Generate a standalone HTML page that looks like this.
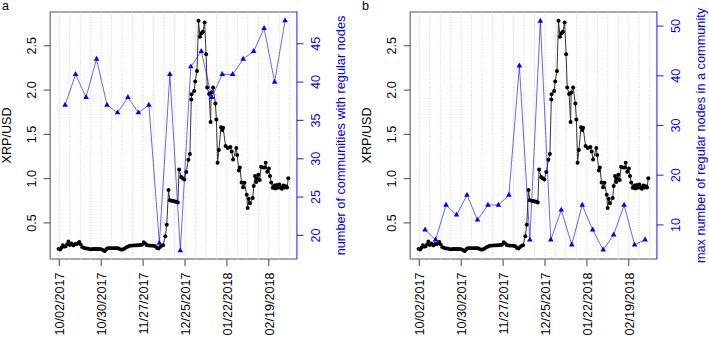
<!DOCTYPE html>
<html><head><meta charset="utf-8"><style>
html,body{margin:0;padding:0;background:#fff;}
svg{display:block;}
text{font-family:"Liberation Sans", sans-serif;}
</style></head><body>
<svg width="709" height="337" viewBox="0 0 709 337">
<rect width="709" height="337" fill="#fff"/>
<g transform="translate(0,0)">
<line x1="59.30" y1="11.6" x2="59.30" y2="259.0" stroke="#cacaca" stroke-width="0.9" stroke-dasharray="1 1.7"/>
<line x1="69.77" y1="11.6" x2="69.77" y2="259.0" stroke="#cacaca" stroke-width="0.9" stroke-dasharray="1 1.7"/>
<line x1="80.25" y1="11.6" x2="80.25" y2="259.0" stroke="#cacaca" stroke-width="0.9" stroke-dasharray="1 1.7"/>
<line x1="90.72" y1="11.6" x2="90.72" y2="259.0" stroke="#cacaca" stroke-width="0.9" stroke-dasharray="1 1.7"/>
<line x1="101.20" y1="11.6" x2="101.20" y2="259.0" stroke="#cacaca" stroke-width="0.9" stroke-dasharray="1 1.7"/>
<line x1="111.67" y1="11.6" x2="111.67" y2="259.0" stroke="#cacaca" stroke-width="0.9" stroke-dasharray="1 1.7"/>
<line x1="122.15" y1="11.6" x2="122.15" y2="259.0" stroke="#cacaca" stroke-width="0.9" stroke-dasharray="1 1.7"/>
<line x1="132.62" y1="11.6" x2="132.62" y2="259.0" stroke="#cacaca" stroke-width="0.9" stroke-dasharray="1 1.7"/>
<line x1="143.10" y1="11.6" x2="143.10" y2="259.0" stroke="#cacaca" stroke-width="0.9" stroke-dasharray="1 1.7"/>
<line x1="153.57" y1="11.6" x2="153.57" y2="259.0" stroke="#cacaca" stroke-width="0.9" stroke-dasharray="1 1.7"/>
<line x1="164.05" y1="11.6" x2="164.05" y2="259.0" stroke="#cacaca" stroke-width="0.9" stroke-dasharray="1 1.7"/>
<line x1="174.52" y1="11.6" x2="174.52" y2="259.0" stroke="#cacaca" stroke-width="0.9" stroke-dasharray="1 1.7"/>
<line x1="185.00" y1="11.6" x2="185.00" y2="259.0" stroke="#cacaca" stroke-width="0.9" stroke-dasharray="1 1.7"/>
<line x1="195.47" y1="11.6" x2="195.47" y2="259.0" stroke="#cacaca" stroke-width="0.9" stroke-dasharray="1 1.7"/>
<line x1="205.95" y1="11.6" x2="205.95" y2="259.0" stroke="#cacaca" stroke-width="0.9" stroke-dasharray="1 1.7"/>
<line x1="216.43" y1="11.6" x2="216.43" y2="259.0" stroke="#cacaca" stroke-width="0.9" stroke-dasharray="1 1.7"/>
<line x1="226.90" y1="11.6" x2="226.90" y2="259.0" stroke="#cacaca" stroke-width="0.9" stroke-dasharray="1 1.7"/>
<line x1="237.38" y1="11.6" x2="237.38" y2="259.0" stroke="#cacaca" stroke-width="0.9" stroke-dasharray="1 1.7"/>
<line x1="247.85" y1="11.6" x2="247.85" y2="259.0" stroke="#cacaca" stroke-width="0.9" stroke-dasharray="1 1.7"/>
<line x1="258.32" y1="11.6" x2="258.32" y2="259.0" stroke="#cacaca" stroke-width="0.9" stroke-dasharray="1 1.7"/>
<line x1="268.80" y1="11.6" x2="268.80" y2="259.0" stroke="#cacaca" stroke-width="0.9" stroke-dasharray="1 1.7"/>
<line x1="279.27" y1="11.6" x2="279.27" y2="259.0" stroke="#cacaca" stroke-width="0.9" stroke-dasharray="1 1.7"/>
<line x1="289.75" y1="11.6" x2="289.75" y2="259.0" stroke="#cacaca" stroke-width="0.9" stroke-dasharray="1 1.7"/>
<path d="M296.9,11.9 H50.2 V259.0 H296.9" fill="none" stroke="#8a8a8a" stroke-width="1.5"/>
<line x1="296.9" y1="11.6" x2="296.9" y2="259.0" stroke="#0000ff" stroke-opacity="0.75" stroke-width="1.2"/>
<rect x="58.80" y="11.2" width="1" height="1.4" fill="#d0d0d0"/>
<rect x="58.80" y="258.3" width="1" height="1.4" fill="#d0d0d0"/>
<rect x="69.27" y="11.2" width="1" height="1.4" fill="#d0d0d0"/>
<rect x="69.27" y="258.3" width="1" height="1.4" fill="#d0d0d0"/>
<rect x="79.75" y="11.2" width="1" height="1.4" fill="#d0d0d0"/>
<rect x="79.75" y="258.3" width="1" height="1.4" fill="#d0d0d0"/>
<rect x="90.22" y="11.2" width="1" height="1.4" fill="#d0d0d0"/>
<rect x="90.22" y="258.3" width="1" height="1.4" fill="#d0d0d0"/>
<rect x="100.70" y="11.2" width="1" height="1.4" fill="#d0d0d0"/>
<rect x="100.70" y="258.3" width="1" height="1.4" fill="#d0d0d0"/>
<rect x="111.17" y="11.2" width="1" height="1.4" fill="#d0d0d0"/>
<rect x="111.17" y="258.3" width="1" height="1.4" fill="#d0d0d0"/>
<rect x="121.65" y="11.2" width="1" height="1.4" fill="#d0d0d0"/>
<rect x="121.65" y="258.3" width="1" height="1.4" fill="#d0d0d0"/>
<rect x="132.12" y="11.2" width="1" height="1.4" fill="#d0d0d0"/>
<rect x="132.12" y="258.3" width="1" height="1.4" fill="#d0d0d0"/>
<rect x="142.60" y="11.2" width="1" height="1.4" fill="#d0d0d0"/>
<rect x="142.60" y="258.3" width="1" height="1.4" fill="#d0d0d0"/>
<rect x="153.07" y="11.2" width="1" height="1.4" fill="#d0d0d0"/>
<rect x="153.07" y="258.3" width="1" height="1.4" fill="#d0d0d0"/>
<rect x="163.55" y="11.2" width="1" height="1.4" fill="#d0d0d0"/>
<rect x="163.55" y="258.3" width="1" height="1.4" fill="#d0d0d0"/>
<rect x="174.02" y="11.2" width="1" height="1.4" fill="#d0d0d0"/>
<rect x="174.02" y="258.3" width="1" height="1.4" fill="#d0d0d0"/>
<rect x="184.50" y="11.2" width="1" height="1.4" fill="#d0d0d0"/>
<rect x="184.50" y="258.3" width="1" height="1.4" fill="#d0d0d0"/>
<rect x="194.97" y="11.2" width="1" height="1.4" fill="#d0d0d0"/>
<rect x="194.97" y="258.3" width="1" height="1.4" fill="#d0d0d0"/>
<rect x="205.45" y="11.2" width="1" height="1.4" fill="#d0d0d0"/>
<rect x="205.45" y="258.3" width="1" height="1.4" fill="#d0d0d0"/>
<rect x="215.93" y="11.2" width="1" height="1.4" fill="#d0d0d0"/>
<rect x="215.93" y="258.3" width="1" height="1.4" fill="#d0d0d0"/>
<rect x="226.40" y="11.2" width="1" height="1.4" fill="#d0d0d0"/>
<rect x="226.40" y="258.3" width="1" height="1.4" fill="#d0d0d0"/>
<rect x="236.88" y="11.2" width="1" height="1.4" fill="#d0d0d0"/>
<rect x="236.88" y="258.3" width="1" height="1.4" fill="#d0d0d0"/>
<rect x="247.35" y="11.2" width="1" height="1.4" fill="#d0d0d0"/>
<rect x="247.35" y="258.3" width="1" height="1.4" fill="#d0d0d0"/>
<rect x="257.82" y="11.2" width="1" height="1.4" fill="#d0d0d0"/>
<rect x="257.82" y="258.3" width="1" height="1.4" fill="#d0d0d0"/>
<rect x="268.30" y="11.2" width="1" height="1.4" fill="#d0d0d0"/>
<rect x="268.30" y="258.3" width="1" height="1.4" fill="#d0d0d0"/>
<rect x="278.77" y="11.2" width="1" height="1.4" fill="#d0d0d0"/>
<rect x="278.77" y="258.3" width="1" height="1.4" fill="#d0d0d0"/>
<rect x="289.25" y="11.2" width="1" height="1.4" fill="#d0d0d0"/>
<rect x="289.25" y="258.3" width="1" height="1.4" fill="#d0d0d0"/>
<line x1="43.6" y1="222.92" x2="50.2" y2="222.92" stroke="#4a4a4a" stroke-width="1.0"/>
<text x="0" y="0" transform="translate(35.6,222.92) rotate(-90)" text-anchor="middle" font-size="12.6" fill="#000">0.5</text>
<line x1="43.6" y1="178.65" x2="50.2" y2="178.65" stroke="#4a4a4a" stroke-width="1.0"/>
<text x="0" y="0" transform="translate(35.6,178.65) rotate(-90)" text-anchor="middle" font-size="12.6" fill="#000">1.0</text>
<line x1="43.6" y1="134.38" x2="50.2" y2="134.38" stroke="#4a4a4a" stroke-width="1.0"/>
<text x="0" y="0" transform="translate(35.6,134.38) rotate(-90)" text-anchor="middle" font-size="12.6" fill="#000">1.5</text>
<line x1="43.6" y1="90.10" x2="50.2" y2="90.10" stroke="#4a4a4a" stroke-width="1.0"/>
<text x="0" y="0" transform="translate(35.6,90.10) rotate(-90)" text-anchor="middle" font-size="12.6" fill="#000">2.0</text>
<line x1="43.6" y1="45.82" x2="50.2" y2="45.82" stroke="#4a4a4a" stroke-width="1.0"/>
<text x="0" y="0" transform="translate(35.6,45.82) rotate(-90)" text-anchor="middle" font-size="12.6" fill="#000">2.5</text>
<text transform="translate(11.2,135.4) rotate(-90)" text-anchor="middle" font-size="12.6" fill="#000">XRP/USD</text>
<line x1="59.30" y1="259.0" x2="59.30" y2="266.0" stroke="#555" stroke-width="1.1"/>
<text transform="translate(64.40,272.4) rotate(-90)" text-anchor="end" font-size="12.6" fill="#000">10/02/2017</text>
<line x1="101.20" y1="259.0" x2="101.20" y2="266.0" stroke="#555" stroke-width="1.1"/>
<text transform="translate(106.30,272.4) rotate(-90)" text-anchor="end" font-size="12.6" fill="#000">10/30/2017</text>
<line x1="143.10" y1="259.0" x2="143.10" y2="266.0" stroke="#555" stroke-width="1.1"/>
<text transform="translate(148.20,272.4) rotate(-90)" text-anchor="end" font-size="12.6" fill="#000">11/27/2017</text>
<line x1="185.00" y1="259.0" x2="185.00" y2="266.0" stroke="#555" stroke-width="1.1"/>
<text transform="translate(190.10,272.4) rotate(-90)" text-anchor="end" font-size="12.6" fill="#000">12/25/2017</text>
<line x1="226.90" y1="259.0" x2="226.90" y2="266.0" stroke="#555" stroke-width="1.1"/>
<text transform="translate(232.00,272.4) rotate(-90)" text-anchor="end" font-size="12.6" fill="#000">01/22/2018</text>
<line x1="268.80" y1="259.0" x2="268.80" y2="266.0" stroke="#555" stroke-width="1.1"/>
<text transform="translate(273.90,272.4) rotate(-90)" text-anchor="end" font-size="12.6" fill="#000">02/19/2018</text>
<line x1="296.9" y1="235.40" x2="303.5" y2="235.40" stroke="#0000ff" stroke-opacity="0.75" stroke-width="1.2"/>
<text transform="translate(320.2,235.40) rotate(-90)" text-anchor="middle" font-size="12.6" fill="#0000ff">20</text>
<line x1="296.9" y1="197.06" x2="303.5" y2="197.06" stroke="#0000ff" stroke-opacity="0.75" stroke-width="1.2"/>
<text transform="translate(320.2,197.06) rotate(-90)" text-anchor="middle" font-size="12.6" fill="#0000ff">25</text>
<line x1="296.9" y1="158.72" x2="303.5" y2="158.72" stroke="#0000ff" stroke-opacity="0.75" stroke-width="1.2"/>
<text transform="translate(320.2,158.72) rotate(-90)" text-anchor="middle" font-size="12.6" fill="#0000ff">30</text>
<line x1="296.9" y1="120.38" x2="303.5" y2="120.38" stroke="#0000ff" stroke-opacity="0.75" stroke-width="1.2"/>
<text transform="translate(320.2,120.38) rotate(-90)" text-anchor="middle" font-size="12.6" fill="#0000ff">35</text>
<line x1="296.9" y1="82.04" x2="303.5" y2="82.04" stroke="#0000ff" stroke-opacity="0.75" stroke-width="1.2"/>
<text transform="translate(320.2,82.04) rotate(-90)" text-anchor="middle" font-size="12.6" fill="#0000ff">40</text>
<line x1="296.9" y1="43.70" x2="303.5" y2="43.70" stroke="#0000ff" stroke-opacity="0.75" stroke-width="1.2"/>
<text transform="translate(320.2,43.70) rotate(-90)" text-anchor="middle" font-size="12.6" fill="#0000ff">45</text>
<text transform="translate(345.2,135.5) rotate(-90)" text-anchor="middle" font-size="12.72" fill="#0000ff">number of communities with regular nodes</text>
<path d="M58.50,248.80 L60.20,249.60 L61.60,247.50 L62.90,245.10 L64.30,246.70 L65.70,246.40 L67.10,244.20 L68.40,241.30 L69.90,245.10 L71.60,243.50 L73.40,245.40 L75.10,244.00 L76.70,244.20 L78.20,243.20 L79.40,241.90 L80.80,244.60 L82.30,247.20 L83.80,247.73 L85.30,248.28 L86.79,248.50 L88.29,248.54 L89.79,249.19 L91.28,249.33 L92.78,249.00 L94.27,249.00 L95.77,249.00 L97.27,249.00 L98.76,249.00 L100.26,249.05 L101.76,249.35 L103.25,250.18 L104.75,251.21 L106.25,249.27 L107.74,248.23 L109.24,248.08 L110.74,248.04 L112.23,248.11 L113.73,248.19 L115.22,248.14 L116.72,248.06 L118.22,248.15 L119.71,249.20 L121.21,249.48 L122.71,249.58 L124.20,248.64 L125.70,247.66 L127.20,246.95 L128.69,246.23 L130.19,245.59 L131.68,245.53 L133.18,245.47 L134.68,245.41 L136.17,245.33 L137.67,245.24 L139.17,245.15 L140.66,244.94 L142.16,244.58 L143.66,242.03 L145.15,243.37 L146.65,245.00 L148.15,245.41 L149.64,245.56 L151.14,245.60 L152.63,245.60 L154.13,245.92 L155.63,246.45 L157.12,248.18 L158.62,248.52 L160.12,246.91 L161.61,245.79 L163.11,245.19 L165.30,236.30 L166.75,224.80 L168.50,190.00 L169.80,200.30 L171.50,200.80 L173.30,201.10 L175.00,201.50 L176.40,201.80 L177.80,202.60 L179.10,169.60 L181.20,176.90 L182.60,178.30 L184.30,179.40 L186.30,172.10 L188.40,159.70 L189.90,154.10 L191.30,99.40 L191.60,94.30 L194.10,90.90 L195.20,81.40 L197.00,71.00 L198.50,20.70 L200.00,36.80 L201.50,33.30 L202.90,31.80 L204.60,22.60 L206.10,54.20 L207.20,87.50 L209.10,94.10 L210.60,121.90 L211.20,92.60 L213.10,87.40 L215.40,103.50 L216.40,119.60 L217.60,162.70 L218.90,150.00 L221.00,127.20 L222.40,130.00 L223.10,127.80 L225.60,146.00 L227.80,148.00 L230.40,147.00 L231.70,151.50 L233.10,159.50 L236.30,148.00 L237.20,155.00 L238.80,170.60 L239.80,167.50 L241.60,182.60 L243.10,187.30 L244.40,182.70 L246.70,194.70 L247.60,208.00 L248.70,198.70 L250.00,203.30 L252.70,198.00 L253.70,186.10 L255.00,176.00 L256.30,182.00 L257.00,178.70 L258.30,174.70 L259.70,180.00 L261.00,166.70 L263.00,167.40 L264.80,167.40 L265.70,162.70 L267.20,171.80 L268.90,168.50 L270.00,176.00 L271.20,182.40 L272.70,187.80 L274.20,185.60 L275.30,188.60 L276.80,185.10 L278.00,187.80 L279.30,184.60 L280.60,187.40 L281.90,188.80 L283.40,185.60 L284.60,187.60 L285.70,186.20 L287.10,187.40 L288.30,178.20" fill="none" stroke="#333" stroke-width="1.0" stroke-linejoin="round"/>
<circle cx="58.50" cy="248.80" r="1.9" fill="#000"/>
<circle cx="60.20" cy="249.60" r="1.9" fill="#000"/>
<circle cx="61.60" cy="247.50" r="1.9" fill="#000"/>
<circle cx="62.90" cy="245.10" r="1.9" fill="#000"/>
<circle cx="64.30" cy="246.70" r="1.9" fill="#000"/>
<circle cx="65.70" cy="246.40" r="1.9" fill="#000"/>
<circle cx="67.10" cy="244.20" r="1.9" fill="#000"/>
<circle cx="68.40" cy="241.30" r="1.9" fill="#000"/>
<circle cx="69.90" cy="245.10" r="1.9" fill="#000"/>
<circle cx="71.60" cy="243.50" r="1.9" fill="#000"/>
<circle cx="73.40" cy="245.40" r="1.9" fill="#000"/>
<circle cx="75.10" cy="244.00" r="1.9" fill="#000"/>
<circle cx="76.70" cy="244.20" r="1.9" fill="#000"/>
<circle cx="78.20" cy="243.20" r="1.9" fill="#000"/>
<circle cx="79.40" cy="241.90" r="1.9" fill="#000"/>
<circle cx="80.80" cy="244.60" r="1.9" fill="#000"/>
<circle cx="82.30" cy="247.20" r="1.9" fill="#000"/>
<circle cx="83.80" cy="247.73" r="1.9" fill="#000"/>
<circle cx="85.30" cy="248.28" r="1.9" fill="#000"/>
<circle cx="86.79" cy="248.50" r="1.9" fill="#000"/>
<circle cx="88.29" cy="248.54" r="1.9" fill="#000"/>
<circle cx="89.79" cy="249.19" r="1.9" fill="#000"/>
<circle cx="91.28" cy="249.33" r="1.9" fill="#000"/>
<circle cx="92.78" cy="249.00" r="1.9" fill="#000"/>
<circle cx="94.27" cy="249.00" r="1.9" fill="#000"/>
<circle cx="95.77" cy="249.00" r="1.9" fill="#000"/>
<circle cx="97.27" cy="249.00" r="1.9" fill="#000"/>
<circle cx="98.76" cy="249.00" r="1.9" fill="#000"/>
<circle cx="100.26" cy="249.05" r="1.9" fill="#000"/>
<circle cx="101.76" cy="249.35" r="1.9" fill="#000"/>
<circle cx="103.25" cy="250.18" r="1.9" fill="#000"/>
<circle cx="104.75" cy="251.21" r="1.9" fill="#000"/>
<circle cx="106.25" cy="249.27" r="1.9" fill="#000"/>
<circle cx="107.74" cy="248.23" r="1.9" fill="#000"/>
<circle cx="109.24" cy="248.08" r="1.9" fill="#000"/>
<circle cx="110.74" cy="248.04" r="1.9" fill="#000"/>
<circle cx="112.23" cy="248.11" r="1.9" fill="#000"/>
<circle cx="113.73" cy="248.19" r="1.9" fill="#000"/>
<circle cx="115.22" cy="248.14" r="1.9" fill="#000"/>
<circle cx="116.72" cy="248.06" r="1.9" fill="#000"/>
<circle cx="118.22" cy="248.15" r="1.9" fill="#000"/>
<circle cx="119.71" cy="249.20" r="1.9" fill="#000"/>
<circle cx="121.21" cy="249.48" r="1.9" fill="#000"/>
<circle cx="122.71" cy="249.58" r="1.9" fill="#000"/>
<circle cx="124.20" cy="248.64" r="1.9" fill="#000"/>
<circle cx="125.70" cy="247.66" r="1.9" fill="#000"/>
<circle cx="127.20" cy="246.95" r="1.9" fill="#000"/>
<circle cx="128.69" cy="246.23" r="1.9" fill="#000"/>
<circle cx="130.19" cy="245.59" r="1.9" fill="#000"/>
<circle cx="131.68" cy="245.53" r="1.9" fill="#000"/>
<circle cx="133.18" cy="245.47" r="1.9" fill="#000"/>
<circle cx="134.68" cy="245.41" r="1.9" fill="#000"/>
<circle cx="136.17" cy="245.33" r="1.9" fill="#000"/>
<circle cx="137.67" cy="245.24" r="1.9" fill="#000"/>
<circle cx="139.17" cy="245.15" r="1.9" fill="#000"/>
<circle cx="140.66" cy="244.94" r="1.9" fill="#000"/>
<circle cx="142.16" cy="244.58" r="1.9" fill="#000"/>
<circle cx="143.66" cy="242.03" r="1.9" fill="#000"/>
<circle cx="145.15" cy="243.37" r="1.9" fill="#000"/>
<circle cx="146.65" cy="245.00" r="1.9" fill="#000"/>
<circle cx="148.15" cy="245.41" r="1.9" fill="#000"/>
<circle cx="149.64" cy="245.56" r="1.9" fill="#000"/>
<circle cx="151.14" cy="245.60" r="1.9" fill="#000"/>
<circle cx="152.63" cy="245.60" r="1.9" fill="#000"/>
<circle cx="154.13" cy="245.92" r="1.9" fill="#000"/>
<circle cx="155.63" cy="246.45" r="1.9" fill="#000"/>
<circle cx="157.12" cy="248.18" r="1.9" fill="#000"/>
<circle cx="158.62" cy="248.52" r="1.9" fill="#000"/>
<circle cx="160.12" cy="246.91" r="1.9" fill="#000"/>
<circle cx="161.61" cy="245.79" r="1.9" fill="#000"/>
<circle cx="163.11" cy="245.19" r="1.9" fill="#000"/>
<circle cx="165.30" cy="236.30" r="2.0" fill="#000"/>
<circle cx="166.75" cy="224.80" r="2.0" fill="#000"/>
<circle cx="168.50" cy="190.00" r="2.0" fill="#000"/>
<circle cx="169.80" cy="200.30" r="2.0" fill="#000"/>
<circle cx="171.50" cy="200.80" r="2.0" fill="#000"/>
<circle cx="173.30" cy="201.10" r="2.0" fill="#000"/>
<circle cx="175.00" cy="201.50" r="2.0" fill="#000"/>
<circle cx="176.40" cy="201.80" r="2.0" fill="#000"/>
<circle cx="177.80" cy="202.60" r="2.0" fill="#000"/>
<circle cx="179.10" cy="169.60" r="2.0" fill="#000"/>
<circle cx="181.20" cy="176.90" r="2.0" fill="#000"/>
<circle cx="182.60" cy="178.30" r="2.0" fill="#000"/>
<circle cx="184.30" cy="179.40" r="2.0" fill="#000"/>
<circle cx="186.30" cy="172.10" r="2.0" fill="#000"/>
<circle cx="188.40" cy="159.70" r="2.0" fill="#000"/>
<circle cx="189.90" cy="154.10" r="2.0" fill="#000"/>
<circle cx="191.30" cy="99.40" r="2.0" fill="#000"/>
<circle cx="191.60" cy="94.30" r="2.0" fill="#000"/>
<circle cx="194.10" cy="90.90" r="2.0" fill="#000"/>
<circle cx="195.20" cy="81.40" r="2.0" fill="#000"/>
<circle cx="197.00" cy="71.00" r="2.0" fill="#000"/>
<circle cx="198.50" cy="20.70" r="2.0" fill="#000"/>
<circle cx="200.00" cy="36.80" r="2.0" fill="#000"/>
<circle cx="201.50" cy="33.30" r="2.0" fill="#000"/>
<circle cx="202.90" cy="31.80" r="2.0" fill="#000"/>
<circle cx="204.60" cy="22.60" r="2.0" fill="#000"/>
<circle cx="206.10" cy="54.20" r="2.0" fill="#000"/>
<circle cx="207.20" cy="87.50" r="2.0" fill="#000"/>
<circle cx="209.10" cy="94.10" r="2.0" fill="#000"/>
<circle cx="210.60" cy="121.90" r="2.0" fill="#000"/>
<circle cx="211.20" cy="92.60" r="2.0" fill="#000"/>
<circle cx="213.10" cy="87.40" r="2.0" fill="#000"/>
<circle cx="215.40" cy="103.50" r="2.0" fill="#000"/>
<circle cx="216.40" cy="119.60" r="2.0" fill="#000"/>
<circle cx="217.60" cy="162.70" r="2.0" fill="#000"/>
<circle cx="218.90" cy="150.00" r="2.0" fill="#000"/>
<circle cx="221.00" cy="127.20" r="2.0" fill="#000"/>
<circle cx="222.40" cy="130.00" r="2.0" fill="#000"/>
<circle cx="223.10" cy="127.80" r="2.0" fill="#000"/>
<circle cx="225.60" cy="146.00" r="2.0" fill="#000"/>
<circle cx="227.80" cy="148.00" r="2.0" fill="#000"/>
<circle cx="230.40" cy="147.00" r="2.0" fill="#000"/>
<circle cx="231.70" cy="151.50" r="2.0" fill="#000"/>
<circle cx="233.10" cy="159.50" r="2.0" fill="#000"/>
<circle cx="236.30" cy="148.00" r="2.0" fill="#000"/>
<circle cx="237.20" cy="155.00" r="2.0" fill="#000"/>
<circle cx="238.80" cy="170.60" r="2.0" fill="#000"/>
<circle cx="239.80" cy="167.50" r="2.0" fill="#000"/>
<circle cx="241.60" cy="182.60" r="2.0" fill="#000"/>
<circle cx="243.10" cy="187.30" r="2.0" fill="#000"/>
<circle cx="244.40" cy="182.70" r="2.0" fill="#000"/>
<circle cx="246.70" cy="194.70" r="2.0" fill="#000"/>
<circle cx="247.60" cy="208.00" r="2.0" fill="#000"/>
<circle cx="248.70" cy="198.70" r="2.0" fill="#000"/>
<circle cx="250.00" cy="203.30" r="2.0" fill="#000"/>
<circle cx="252.70" cy="198.00" r="2.0" fill="#000"/>
<circle cx="253.70" cy="186.10" r="2.0" fill="#000"/>
<circle cx="255.00" cy="176.00" r="2.0" fill="#000"/>
<circle cx="256.30" cy="182.00" r="2.0" fill="#000"/>
<circle cx="257.00" cy="178.70" r="2.0" fill="#000"/>
<circle cx="258.30" cy="174.70" r="2.0" fill="#000"/>
<circle cx="259.70" cy="180.00" r="2.0" fill="#000"/>
<circle cx="261.00" cy="166.70" r="2.0" fill="#000"/>
<circle cx="263.00" cy="167.40" r="2.0" fill="#000"/>
<circle cx="264.80" cy="167.40" r="2.0" fill="#000"/>
<circle cx="265.70" cy="162.70" r="2.0" fill="#000"/>
<circle cx="267.20" cy="171.80" r="2.0" fill="#000"/>
<circle cx="268.90" cy="168.50" r="2.0" fill="#000"/>
<circle cx="270.00" cy="176.00" r="2.0" fill="#000"/>
<circle cx="271.20" cy="182.40" r="2.0" fill="#000"/>
<circle cx="272.70" cy="187.80" r="2.0" fill="#000"/>
<circle cx="274.20" cy="185.60" r="2.0" fill="#000"/>
<circle cx="275.30" cy="188.60" r="2.0" fill="#000"/>
<circle cx="276.80" cy="185.10" r="2.0" fill="#000"/>
<circle cx="278.00" cy="187.80" r="2.0" fill="#000"/>
<circle cx="279.30" cy="184.60" r="2.0" fill="#000"/>
<circle cx="280.60" cy="187.40" r="2.0" fill="#000"/>
<circle cx="281.90" cy="188.80" r="2.0" fill="#000"/>
<circle cx="283.40" cy="185.60" r="2.0" fill="#000"/>
<circle cx="284.60" cy="187.60" r="2.0" fill="#000"/>
<circle cx="285.70" cy="186.20" r="2.0" fill="#000"/>
<circle cx="287.10" cy="187.40" r="2.0" fill="#000"/>
<circle cx="288.30" cy="178.20" r="2.0" fill="#000"/>
<path d="M65.10,105.04 L75.57,74.37 L86.05,97.38 L96.52,59.04 L107.00,105.04 L117.47,112.71 L127.95,97.38 L138.43,112.71 L148.90,105.04 L159.38,243.07 L169.85,74.37 L180.32,250.74 L190.80,66.70 L201.27,51.37 L211.75,97.38 L222.22,74.37 L232.70,74.37 L243.17,59.04 L253.65,51.37 L264.12,28.36 L274.60,82.04 L285.07,20.70" fill="none" stroke="#0000ff" stroke-opacity="0.6" stroke-width="1.0"/>
<path d="M65.10,101.78 L67.93,106.68 L62.27,106.68Z" fill="#0000ff"/>
<path d="M75.57,71.11 L78.40,76.00 L72.75,76.00Z" fill="#0000ff"/>
<path d="M86.05,94.11 L88.88,99.01 L83.22,99.01Z" fill="#0000ff"/>
<path d="M96.52,55.77 L99.35,60.67 L93.70,60.67Z" fill="#0000ff"/>
<path d="M107.00,101.78 L109.83,106.68 L104.17,106.68Z" fill="#0000ff"/>
<path d="M117.47,109.45 L120.30,114.34 L114.65,114.34Z" fill="#0000ff"/>
<path d="M127.95,94.11 L130.78,99.01 L125.12,99.01Z" fill="#0000ff"/>
<path d="M138.43,109.45 L141.25,114.34 L135.60,114.34Z" fill="#0000ff"/>
<path d="M148.90,101.78 L151.73,106.68 L146.07,106.68Z" fill="#0000ff"/>
<path d="M159.38,239.80 L162.20,244.70 L156.55,244.70Z" fill="#0000ff"/>
<path d="M169.85,71.11 L172.68,76.00 L167.02,76.00Z" fill="#0000ff"/>
<path d="M180.32,247.47 L183.15,252.37 L177.50,252.37Z" fill="#0000ff"/>
<path d="M190.80,63.44 L193.63,68.34 L187.97,68.34Z" fill="#0000ff"/>
<path d="M201.27,48.10 L204.10,53.00 L198.45,53.00Z" fill="#0000ff"/>
<path d="M211.75,94.11 L214.58,99.01 L208.92,99.01Z" fill="#0000ff"/>
<path d="M222.22,71.11 L225.05,76.00 L219.40,76.00Z" fill="#0000ff"/>
<path d="M232.70,71.11 L235.53,76.00 L229.87,76.00Z" fill="#0000ff"/>
<path d="M243.17,55.77 L246.00,60.67 L240.35,60.67Z" fill="#0000ff"/>
<path d="M253.65,48.10 L256.48,53.00 L250.82,53.00Z" fill="#0000ff"/>
<path d="M264.12,25.10 L266.95,30.00 L261.30,30.00Z" fill="#0000ff"/>
<path d="M274.60,78.77 L277.43,83.67 L271.77,83.67Z" fill="#0000ff"/>
<path d="M285.07,17.43 L287.90,22.33 L282.25,22.33Z" fill="#0000ff"/>
<text x="1.9" y="9.6" font-size="12.6" fill="#000">a</text>
</g>
<g transform="translate(360,0)">
<line x1="59.30" y1="11.6" x2="59.30" y2="259.0" stroke="#cacaca" stroke-width="0.9" stroke-dasharray="1 1.7"/>
<line x1="69.77" y1="11.6" x2="69.77" y2="259.0" stroke="#cacaca" stroke-width="0.9" stroke-dasharray="1 1.7"/>
<line x1="80.25" y1="11.6" x2="80.25" y2="259.0" stroke="#cacaca" stroke-width="0.9" stroke-dasharray="1 1.7"/>
<line x1="90.72" y1="11.6" x2="90.72" y2="259.0" stroke="#cacaca" stroke-width="0.9" stroke-dasharray="1 1.7"/>
<line x1="101.20" y1="11.6" x2="101.20" y2="259.0" stroke="#cacaca" stroke-width="0.9" stroke-dasharray="1 1.7"/>
<line x1="111.67" y1="11.6" x2="111.67" y2="259.0" stroke="#cacaca" stroke-width="0.9" stroke-dasharray="1 1.7"/>
<line x1="122.15" y1="11.6" x2="122.15" y2="259.0" stroke="#cacaca" stroke-width="0.9" stroke-dasharray="1 1.7"/>
<line x1="132.62" y1="11.6" x2="132.62" y2="259.0" stroke="#cacaca" stroke-width="0.9" stroke-dasharray="1 1.7"/>
<line x1="143.10" y1="11.6" x2="143.10" y2="259.0" stroke="#cacaca" stroke-width="0.9" stroke-dasharray="1 1.7"/>
<line x1="153.57" y1="11.6" x2="153.57" y2="259.0" stroke="#cacaca" stroke-width="0.9" stroke-dasharray="1 1.7"/>
<line x1="164.05" y1="11.6" x2="164.05" y2="259.0" stroke="#cacaca" stroke-width="0.9" stroke-dasharray="1 1.7"/>
<line x1="174.52" y1="11.6" x2="174.52" y2="259.0" stroke="#cacaca" stroke-width="0.9" stroke-dasharray="1 1.7"/>
<line x1="185.00" y1="11.6" x2="185.00" y2="259.0" stroke="#cacaca" stroke-width="0.9" stroke-dasharray="1 1.7"/>
<line x1="195.47" y1="11.6" x2="195.47" y2="259.0" stroke="#cacaca" stroke-width="0.9" stroke-dasharray="1 1.7"/>
<line x1="205.95" y1="11.6" x2="205.95" y2="259.0" stroke="#cacaca" stroke-width="0.9" stroke-dasharray="1 1.7"/>
<line x1="216.43" y1="11.6" x2="216.43" y2="259.0" stroke="#cacaca" stroke-width="0.9" stroke-dasharray="1 1.7"/>
<line x1="226.90" y1="11.6" x2="226.90" y2="259.0" stroke="#cacaca" stroke-width="0.9" stroke-dasharray="1 1.7"/>
<line x1="237.38" y1="11.6" x2="237.38" y2="259.0" stroke="#cacaca" stroke-width="0.9" stroke-dasharray="1 1.7"/>
<line x1="247.85" y1="11.6" x2="247.85" y2="259.0" stroke="#cacaca" stroke-width="0.9" stroke-dasharray="1 1.7"/>
<line x1="258.32" y1="11.6" x2="258.32" y2="259.0" stroke="#cacaca" stroke-width="0.9" stroke-dasharray="1 1.7"/>
<line x1="268.80" y1="11.6" x2="268.80" y2="259.0" stroke="#cacaca" stroke-width="0.9" stroke-dasharray="1 1.7"/>
<line x1="279.27" y1="11.6" x2="279.27" y2="259.0" stroke="#cacaca" stroke-width="0.9" stroke-dasharray="1 1.7"/>
<line x1="289.75" y1="11.6" x2="289.75" y2="259.0" stroke="#cacaca" stroke-width="0.9" stroke-dasharray="1 1.7"/>
<path d="M296.9,11.9 H50.2 V259.0 H296.9" fill="none" stroke="#8a8a8a" stroke-width="1.5"/>
<line x1="296.9" y1="11.6" x2="296.9" y2="259.0" stroke="#0000ff" stroke-opacity="0.75" stroke-width="1.2"/>
<rect x="58.80" y="11.2" width="1" height="1.4" fill="#d0d0d0"/>
<rect x="58.80" y="258.3" width="1" height="1.4" fill="#d0d0d0"/>
<rect x="69.27" y="11.2" width="1" height="1.4" fill="#d0d0d0"/>
<rect x="69.27" y="258.3" width="1" height="1.4" fill="#d0d0d0"/>
<rect x="79.75" y="11.2" width="1" height="1.4" fill="#d0d0d0"/>
<rect x="79.75" y="258.3" width="1" height="1.4" fill="#d0d0d0"/>
<rect x="90.22" y="11.2" width="1" height="1.4" fill="#d0d0d0"/>
<rect x="90.22" y="258.3" width="1" height="1.4" fill="#d0d0d0"/>
<rect x="100.70" y="11.2" width="1" height="1.4" fill="#d0d0d0"/>
<rect x="100.70" y="258.3" width="1" height="1.4" fill="#d0d0d0"/>
<rect x="111.17" y="11.2" width="1" height="1.4" fill="#d0d0d0"/>
<rect x="111.17" y="258.3" width="1" height="1.4" fill="#d0d0d0"/>
<rect x="121.65" y="11.2" width="1" height="1.4" fill="#d0d0d0"/>
<rect x="121.65" y="258.3" width="1" height="1.4" fill="#d0d0d0"/>
<rect x="132.12" y="11.2" width="1" height="1.4" fill="#d0d0d0"/>
<rect x="132.12" y="258.3" width="1" height="1.4" fill="#d0d0d0"/>
<rect x="142.60" y="11.2" width="1" height="1.4" fill="#d0d0d0"/>
<rect x="142.60" y="258.3" width="1" height="1.4" fill="#d0d0d0"/>
<rect x="153.07" y="11.2" width="1" height="1.4" fill="#d0d0d0"/>
<rect x="153.07" y="258.3" width="1" height="1.4" fill="#d0d0d0"/>
<rect x="163.55" y="11.2" width="1" height="1.4" fill="#d0d0d0"/>
<rect x="163.55" y="258.3" width="1" height="1.4" fill="#d0d0d0"/>
<rect x="174.02" y="11.2" width="1" height="1.4" fill="#d0d0d0"/>
<rect x="174.02" y="258.3" width="1" height="1.4" fill="#d0d0d0"/>
<rect x="184.50" y="11.2" width="1" height="1.4" fill="#d0d0d0"/>
<rect x="184.50" y="258.3" width="1" height="1.4" fill="#d0d0d0"/>
<rect x="194.97" y="11.2" width="1" height="1.4" fill="#d0d0d0"/>
<rect x="194.97" y="258.3" width="1" height="1.4" fill="#d0d0d0"/>
<rect x="205.45" y="11.2" width="1" height="1.4" fill="#d0d0d0"/>
<rect x="205.45" y="258.3" width="1" height="1.4" fill="#d0d0d0"/>
<rect x="215.93" y="11.2" width="1" height="1.4" fill="#d0d0d0"/>
<rect x="215.93" y="258.3" width="1" height="1.4" fill="#d0d0d0"/>
<rect x="226.40" y="11.2" width="1" height="1.4" fill="#d0d0d0"/>
<rect x="226.40" y="258.3" width="1" height="1.4" fill="#d0d0d0"/>
<rect x="236.88" y="11.2" width="1" height="1.4" fill="#d0d0d0"/>
<rect x="236.88" y="258.3" width="1" height="1.4" fill="#d0d0d0"/>
<rect x="247.35" y="11.2" width="1" height="1.4" fill="#d0d0d0"/>
<rect x="247.35" y="258.3" width="1" height="1.4" fill="#d0d0d0"/>
<rect x="257.82" y="11.2" width="1" height="1.4" fill="#d0d0d0"/>
<rect x="257.82" y="258.3" width="1" height="1.4" fill="#d0d0d0"/>
<rect x="268.30" y="11.2" width="1" height="1.4" fill="#d0d0d0"/>
<rect x="268.30" y="258.3" width="1" height="1.4" fill="#d0d0d0"/>
<rect x="278.77" y="11.2" width="1" height="1.4" fill="#d0d0d0"/>
<rect x="278.77" y="258.3" width="1" height="1.4" fill="#d0d0d0"/>
<rect x="289.25" y="11.2" width="1" height="1.4" fill="#d0d0d0"/>
<rect x="289.25" y="258.3" width="1" height="1.4" fill="#d0d0d0"/>
<line x1="43.6" y1="222.92" x2="50.2" y2="222.92" stroke="#4a4a4a" stroke-width="1.0"/>
<text x="0" y="0" transform="translate(35.6,222.92) rotate(-90)" text-anchor="middle" font-size="12.6" fill="#000">0.5</text>
<line x1="43.6" y1="178.65" x2="50.2" y2="178.65" stroke="#4a4a4a" stroke-width="1.0"/>
<text x="0" y="0" transform="translate(35.6,178.65) rotate(-90)" text-anchor="middle" font-size="12.6" fill="#000">1.0</text>
<line x1="43.6" y1="134.38" x2="50.2" y2="134.38" stroke="#4a4a4a" stroke-width="1.0"/>
<text x="0" y="0" transform="translate(35.6,134.38) rotate(-90)" text-anchor="middle" font-size="12.6" fill="#000">1.5</text>
<line x1="43.6" y1="90.10" x2="50.2" y2="90.10" stroke="#4a4a4a" stroke-width="1.0"/>
<text x="0" y="0" transform="translate(35.6,90.10) rotate(-90)" text-anchor="middle" font-size="12.6" fill="#000">2.0</text>
<line x1="43.6" y1="45.82" x2="50.2" y2="45.82" stroke="#4a4a4a" stroke-width="1.0"/>
<text x="0" y="0" transform="translate(35.6,45.82) rotate(-90)" text-anchor="middle" font-size="12.6" fill="#000">2.5</text>
<text transform="translate(11.2,135.4) rotate(-90)" text-anchor="middle" font-size="12.6" fill="#000">XRP/USD</text>
<line x1="59.30" y1="259.0" x2="59.30" y2="266.0" stroke="#555" stroke-width="1.1"/>
<text transform="translate(64.40,272.4) rotate(-90)" text-anchor="end" font-size="12.6" fill="#000">10/02/2017</text>
<line x1="101.20" y1="259.0" x2="101.20" y2="266.0" stroke="#555" stroke-width="1.1"/>
<text transform="translate(106.30,272.4) rotate(-90)" text-anchor="end" font-size="12.6" fill="#000">10/30/2017</text>
<line x1="143.10" y1="259.0" x2="143.10" y2="266.0" stroke="#555" stroke-width="1.1"/>
<text transform="translate(148.20,272.4) rotate(-90)" text-anchor="end" font-size="12.6" fill="#000">11/27/2017</text>
<line x1="185.00" y1="259.0" x2="185.00" y2="266.0" stroke="#555" stroke-width="1.1"/>
<text transform="translate(190.10,272.4) rotate(-90)" text-anchor="end" font-size="12.6" fill="#000">12/25/2017</text>
<line x1="226.90" y1="259.0" x2="226.90" y2="266.0" stroke="#555" stroke-width="1.1"/>
<text transform="translate(232.00,272.4) rotate(-90)" text-anchor="end" font-size="12.6" fill="#000">01/22/2018</text>
<line x1="268.80" y1="259.0" x2="268.80" y2="266.0" stroke="#555" stroke-width="1.1"/>
<text transform="translate(273.90,272.4) rotate(-90)" text-anchor="end" font-size="12.6" fill="#000">02/19/2018</text>
<line x1="296.9" y1="224.90" x2="303.5" y2="224.90" stroke="#0000ff" stroke-opacity="0.75" stroke-width="1.2"/>
<text transform="translate(320.2,224.90) rotate(-90)" text-anchor="middle" font-size="12.6" fill="#0000ff">10</text>
<line x1="296.9" y1="175.20" x2="303.5" y2="175.20" stroke="#0000ff" stroke-opacity="0.75" stroke-width="1.2"/>
<text transform="translate(320.2,175.20) rotate(-90)" text-anchor="middle" font-size="12.6" fill="#0000ff">20</text>
<line x1="296.9" y1="125.50" x2="303.5" y2="125.50" stroke="#0000ff" stroke-opacity="0.75" stroke-width="1.2"/>
<text transform="translate(320.2,125.50) rotate(-90)" text-anchor="middle" font-size="12.6" fill="#0000ff">30</text>
<line x1="296.9" y1="75.80" x2="303.5" y2="75.80" stroke="#0000ff" stroke-opacity="0.75" stroke-width="1.2"/>
<text transform="translate(320.2,75.80) rotate(-90)" text-anchor="middle" font-size="12.6" fill="#0000ff">40</text>
<line x1="296.9" y1="26.10" x2="303.5" y2="26.10" stroke="#0000ff" stroke-opacity="0.75" stroke-width="1.2"/>
<text transform="translate(320.2,26.10) rotate(-90)" text-anchor="middle" font-size="12.6" fill="#0000ff">50</text>
<text transform="translate(345.2,135.5) rotate(-90)" text-anchor="middle" font-size="12.72" fill="#0000ff">max number of regular nodes in a community</text>
<path d="M58.50,248.80 L60.20,249.60 L61.60,247.50 L62.90,245.10 L64.30,246.70 L65.70,246.40 L67.10,244.20 L68.40,241.30 L69.90,245.10 L71.60,243.50 L73.40,245.40 L75.10,244.00 L76.70,244.20 L78.20,243.20 L79.40,241.90 L80.80,244.60 L82.30,247.20 L83.80,247.73 L85.30,248.28 L86.79,248.50 L88.29,248.54 L89.79,249.19 L91.28,249.33 L92.78,249.00 L94.27,249.00 L95.77,249.00 L97.27,249.00 L98.76,249.00 L100.26,249.05 L101.76,249.35 L103.25,250.18 L104.75,251.21 L106.25,249.27 L107.74,248.23 L109.24,248.08 L110.74,248.04 L112.23,248.11 L113.73,248.19 L115.22,248.14 L116.72,248.06 L118.22,248.15 L119.71,249.20 L121.21,249.48 L122.71,249.58 L124.20,248.64 L125.70,247.66 L127.20,246.95 L128.69,246.23 L130.19,245.59 L131.68,245.53 L133.18,245.47 L134.68,245.41 L136.17,245.33 L137.67,245.24 L139.17,245.15 L140.66,244.94 L142.16,244.58 L143.66,242.03 L145.15,243.37 L146.65,245.00 L148.15,245.41 L149.64,245.56 L151.14,245.60 L152.63,245.60 L154.13,245.92 L155.63,246.45 L157.12,248.18 L158.62,248.52 L160.12,246.91 L161.61,245.79 L163.11,245.19 L165.30,236.30 L166.75,224.80 L168.50,190.00 L169.80,200.30 L171.50,200.80 L173.30,201.10 L175.00,201.50 L176.40,201.80 L177.80,202.60 L179.10,169.60 L181.20,176.90 L182.60,178.30 L184.30,179.40 L186.30,172.10 L188.40,159.70 L189.90,154.10 L191.30,99.40 L191.60,94.30 L194.10,90.90 L195.20,81.40 L197.00,71.00 L198.50,20.70 L200.00,36.80 L201.50,33.30 L202.90,31.80 L204.60,22.60 L206.10,54.20 L207.20,87.50 L209.10,94.10 L210.60,121.90 L211.20,92.60 L213.10,87.40 L215.40,103.50 L216.40,119.60 L217.60,162.70 L218.90,150.00 L221.00,127.20 L222.40,130.00 L223.10,127.80 L225.60,146.00 L227.80,148.00 L230.40,147.00 L231.70,151.50 L233.10,159.50 L236.30,148.00 L237.20,155.00 L238.80,170.60 L239.80,167.50 L241.60,182.60 L243.10,187.30 L244.40,182.70 L246.70,194.70 L247.60,208.00 L248.70,198.70 L250.00,203.30 L252.70,198.00 L253.70,186.10 L255.00,176.00 L256.30,182.00 L257.00,178.70 L258.30,174.70 L259.70,180.00 L261.00,166.70 L263.00,167.40 L264.80,167.40 L265.70,162.70 L267.20,171.80 L268.90,168.50 L270.00,176.00 L271.20,182.40 L272.70,187.80 L274.20,185.60 L275.30,188.60 L276.80,185.10 L278.00,187.80 L279.30,184.60 L280.60,187.40 L281.90,188.80 L283.40,185.60 L284.60,187.60 L285.70,186.20 L287.10,187.40 L288.30,178.20" fill="none" stroke="#333" stroke-width="1.0" stroke-linejoin="round"/>
<circle cx="58.50" cy="248.80" r="1.9" fill="#000"/>
<circle cx="60.20" cy="249.60" r="1.9" fill="#000"/>
<circle cx="61.60" cy="247.50" r="1.9" fill="#000"/>
<circle cx="62.90" cy="245.10" r="1.9" fill="#000"/>
<circle cx="64.30" cy="246.70" r="1.9" fill="#000"/>
<circle cx="65.70" cy="246.40" r="1.9" fill="#000"/>
<circle cx="67.10" cy="244.20" r="1.9" fill="#000"/>
<circle cx="68.40" cy="241.30" r="1.9" fill="#000"/>
<circle cx="69.90" cy="245.10" r="1.9" fill="#000"/>
<circle cx="71.60" cy="243.50" r="1.9" fill="#000"/>
<circle cx="73.40" cy="245.40" r="1.9" fill="#000"/>
<circle cx="75.10" cy="244.00" r="1.9" fill="#000"/>
<circle cx="76.70" cy="244.20" r="1.9" fill="#000"/>
<circle cx="78.20" cy="243.20" r="1.9" fill="#000"/>
<circle cx="79.40" cy="241.90" r="1.9" fill="#000"/>
<circle cx="80.80" cy="244.60" r="1.9" fill="#000"/>
<circle cx="82.30" cy="247.20" r="1.9" fill="#000"/>
<circle cx="83.80" cy="247.73" r="1.9" fill="#000"/>
<circle cx="85.30" cy="248.28" r="1.9" fill="#000"/>
<circle cx="86.79" cy="248.50" r="1.9" fill="#000"/>
<circle cx="88.29" cy="248.54" r="1.9" fill="#000"/>
<circle cx="89.79" cy="249.19" r="1.9" fill="#000"/>
<circle cx="91.28" cy="249.33" r="1.9" fill="#000"/>
<circle cx="92.78" cy="249.00" r="1.9" fill="#000"/>
<circle cx="94.27" cy="249.00" r="1.9" fill="#000"/>
<circle cx="95.77" cy="249.00" r="1.9" fill="#000"/>
<circle cx="97.27" cy="249.00" r="1.9" fill="#000"/>
<circle cx="98.76" cy="249.00" r="1.9" fill="#000"/>
<circle cx="100.26" cy="249.05" r="1.9" fill="#000"/>
<circle cx="101.76" cy="249.35" r="1.9" fill="#000"/>
<circle cx="103.25" cy="250.18" r="1.9" fill="#000"/>
<circle cx="104.75" cy="251.21" r="1.9" fill="#000"/>
<circle cx="106.25" cy="249.27" r="1.9" fill="#000"/>
<circle cx="107.74" cy="248.23" r="1.9" fill="#000"/>
<circle cx="109.24" cy="248.08" r="1.9" fill="#000"/>
<circle cx="110.74" cy="248.04" r="1.9" fill="#000"/>
<circle cx="112.23" cy="248.11" r="1.9" fill="#000"/>
<circle cx="113.73" cy="248.19" r="1.9" fill="#000"/>
<circle cx="115.22" cy="248.14" r="1.9" fill="#000"/>
<circle cx="116.72" cy="248.06" r="1.9" fill="#000"/>
<circle cx="118.22" cy="248.15" r="1.9" fill="#000"/>
<circle cx="119.71" cy="249.20" r="1.9" fill="#000"/>
<circle cx="121.21" cy="249.48" r="1.9" fill="#000"/>
<circle cx="122.71" cy="249.58" r="1.9" fill="#000"/>
<circle cx="124.20" cy="248.64" r="1.9" fill="#000"/>
<circle cx="125.70" cy="247.66" r="1.9" fill="#000"/>
<circle cx="127.20" cy="246.95" r="1.9" fill="#000"/>
<circle cx="128.69" cy="246.23" r="1.9" fill="#000"/>
<circle cx="130.19" cy="245.59" r="1.9" fill="#000"/>
<circle cx="131.68" cy="245.53" r="1.9" fill="#000"/>
<circle cx="133.18" cy="245.47" r="1.9" fill="#000"/>
<circle cx="134.68" cy="245.41" r="1.9" fill="#000"/>
<circle cx="136.17" cy="245.33" r="1.9" fill="#000"/>
<circle cx="137.67" cy="245.24" r="1.9" fill="#000"/>
<circle cx="139.17" cy="245.15" r="1.9" fill="#000"/>
<circle cx="140.66" cy="244.94" r="1.9" fill="#000"/>
<circle cx="142.16" cy="244.58" r="1.9" fill="#000"/>
<circle cx="143.66" cy="242.03" r="1.9" fill="#000"/>
<circle cx="145.15" cy="243.37" r="1.9" fill="#000"/>
<circle cx="146.65" cy="245.00" r="1.9" fill="#000"/>
<circle cx="148.15" cy="245.41" r="1.9" fill="#000"/>
<circle cx="149.64" cy="245.56" r="1.9" fill="#000"/>
<circle cx="151.14" cy="245.60" r="1.9" fill="#000"/>
<circle cx="152.63" cy="245.60" r="1.9" fill="#000"/>
<circle cx="154.13" cy="245.92" r="1.9" fill="#000"/>
<circle cx="155.63" cy="246.45" r="1.9" fill="#000"/>
<circle cx="157.12" cy="248.18" r="1.9" fill="#000"/>
<circle cx="158.62" cy="248.52" r="1.9" fill="#000"/>
<circle cx="160.12" cy="246.91" r="1.9" fill="#000"/>
<circle cx="161.61" cy="245.79" r="1.9" fill="#000"/>
<circle cx="163.11" cy="245.19" r="1.9" fill="#000"/>
<circle cx="165.30" cy="236.30" r="2.0" fill="#000"/>
<circle cx="166.75" cy="224.80" r="2.0" fill="#000"/>
<circle cx="168.50" cy="190.00" r="2.0" fill="#000"/>
<circle cx="169.80" cy="200.30" r="2.0" fill="#000"/>
<circle cx="171.50" cy="200.80" r="2.0" fill="#000"/>
<circle cx="173.30" cy="201.10" r="2.0" fill="#000"/>
<circle cx="175.00" cy="201.50" r="2.0" fill="#000"/>
<circle cx="176.40" cy="201.80" r="2.0" fill="#000"/>
<circle cx="177.80" cy="202.60" r="2.0" fill="#000"/>
<circle cx="179.10" cy="169.60" r="2.0" fill="#000"/>
<circle cx="181.20" cy="176.90" r="2.0" fill="#000"/>
<circle cx="182.60" cy="178.30" r="2.0" fill="#000"/>
<circle cx="184.30" cy="179.40" r="2.0" fill="#000"/>
<circle cx="186.30" cy="172.10" r="2.0" fill="#000"/>
<circle cx="188.40" cy="159.70" r="2.0" fill="#000"/>
<circle cx="189.90" cy="154.10" r="2.0" fill="#000"/>
<circle cx="191.30" cy="99.40" r="2.0" fill="#000"/>
<circle cx="191.60" cy="94.30" r="2.0" fill="#000"/>
<circle cx="194.10" cy="90.90" r="2.0" fill="#000"/>
<circle cx="195.20" cy="81.40" r="2.0" fill="#000"/>
<circle cx="197.00" cy="71.00" r="2.0" fill="#000"/>
<circle cx="198.50" cy="20.70" r="2.0" fill="#000"/>
<circle cx="200.00" cy="36.80" r="2.0" fill="#000"/>
<circle cx="201.50" cy="33.30" r="2.0" fill="#000"/>
<circle cx="202.90" cy="31.80" r="2.0" fill="#000"/>
<circle cx="204.60" cy="22.60" r="2.0" fill="#000"/>
<circle cx="206.10" cy="54.20" r="2.0" fill="#000"/>
<circle cx="207.20" cy="87.50" r="2.0" fill="#000"/>
<circle cx="209.10" cy="94.10" r="2.0" fill="#000"/>
<circle cx="210.60" cy="121.90" r="2.0" fill="#000"/>
<circle cx="211.20" cy="92.60" r="2.0" fill="#000"/>
<circle cx="213.10" cy="87.40" r="2.0" fill="#000"/>
<circle cx="215.40" cy="103.50" r="2.0" fill="#000"/>
<circle cx="216.40" cy="119.60" r="2.0" fill="#000"/>
<circle cx="217.60" cy="162.70" r="2.0" fill="#000"/>
<circle cx="218.90" cy="150.00" r="2.0" fill="#000"/>
<circle cx="221.00" cy="127.20" r="2.0" fill="#000"/>
<circle cx="222.40" cy="130.00" r="2.0" fill="#000"/>
<circle cx="223.10" cy="127.80" r="2.0" fill="#000"/>
<circle cx="225.60" cy="146.00" r="2.0" fill="#000"/>
<circle cx="227.80" cy="148.00" r="2.0" fill="#000"/>
<circle cx="230.40" cy="147.00" r="2.0" fill="#000"/>
<circle cx="231.70" cy="151.50" r="2.0" fill="#000"/>
<circle cx="233.10" cy="159.50" r="2.0" fill="#000"/>
<circle cx="236.30" cy="148.00" r="2.0" fill="#000"/>
<circle cx="237.20" cy="155.00" r="2.0" fill="#000"/>
<circle cx="238.80" cy="170.60" r="2.0" fill="#000"/>
<circle cx="239.80" cy="167.50" r="2.0" fill="#000"/>
<circle cx="241.60" cy="182.60" r="2.0" fill="#000"/>
<circle cx="243.10" cy="187.30" r="2.0" fill="#000"/>
<circle cx="244.40" cy="182.70" r="2.0" fill="#000"/>
<circle cx="246.70" cy="194.70" r="2.0" fill="#000"/>
<circle cx="247.60" cy="208.00" r="2.0" fill="#000"/>
<circle cx="248.70" cy="198.70" r="2.0" fill="#000"/>
<circle cx="250.00" cy="203.30" r="2.0" fill="#000"/>
<circle cx="252.70" cy="198.00" r="2.0" fill="#000"/>
<circle cx="253.70" cy="186.10" r="2.0" fill="#000"/>
<circle cx="255.00" cy="176.00" r="2.0" fill="#000"/>
<circle cx="256.30" cy="182.00" r="2.0" fill="#000"/>
<circle cx="257.00" cy="178.70" r="2.0" fill="#000"/>
<circle cx="258.30" cy="174.70" r="2.0" fill="#000"/>
<circle cx="259.70" cy="180.00" r="2.0" fill="#000"/>
<circle cx="261.00" cy="166.70" r="2.0" fill="#000"/>
<circle cx="263.00" cy="167.40" r="2.0" fill="#000"/>
<circle cx="264.80" cy="167.40" r="2.0" fill="#000"/>
<circle cx="265.70" cy="162.70" r="2.0" fill="#000"/>
<circle cx="267.20" cy="171.80" r="2.0" fill="#000"/>
<circle cx="268.90" cy="168.50" r="2.0" fill="#000"/>
<circle cx="270.00" cy="176.00" r="2.0" fill="#000"/>
<circle cx="271.20" cy="182.40" r="2.0" fill="#000"/>
<circle cx="272.70" cy="187.80" r="2.0" fill="#000"/>
<circle cx="274.20" cy="185.60" r="2.0" fill="#000"/>
<circle cx="275.30" cy="188.60" r="2.0" fill="#000"/>
<circle cx="276.80" cy="185.10" r="2.0" fill="#000"/>
<circle cx="278.00" cy="187.80" r="2.0" fill="#000"/>
<circle cx="279.30" cy="184.60" r="2.0" fill="#000"/>
<circle cx="280.60" cy="187.40" r="2.0" fill="#000"/>
<circle cx="281.90" cy="188.80" r="2.0" fill="#000"/>
<circle cx="283.40" cy="185.60" r="2.0" fill="#000"/>
<circle cx="284.60" cy="187.60" r="2.0" fill="#000"/>
<circle cx="285.70" cy="186.20" r="2.0" fill="#000"/>
<circle cx="287.10" cy="187.40" r="2.0" fill="#000"/>
<circle cx="288.30" cy="178.20" r="2.0" fill="#000"/>
<path d="M65.10,229.87 L75.57,239.81 L86.05,205.02 L96.52,214.96 L107.00,195.08 L117.47,219.93 L127.95,205.02 L138.43,205.02 L148.90,195.08 L159.38,65.86 L169.85,239.81 L180.32,21.13 L190.80,239.81 L201.27,209.99 L211.75,244.78 L222.22,205.02 L232.70,229.87 L243.17,249.75 L253.65,234.84 L264.12,205.02 L274.60,244.78 L285.07,239.81" fill="none" stroke="#0000ff" stroke-opacity="0.6" stroke-width="1.0"/>
<path d="M65.10,226.60 L67.93,231.50 L62.27,231.50Z" fill="#0000ff"/>
<path d="M75.57,236.54 L78.40,241.44 L72.75,241.44Z" fill="#0000ff"/>
<path d="M86.05,201.75 L88.88,206.65 L83.22,206.65Z" fill="#0000ff"/>
<path d="M96.52,211.69 L99.35,216.59 L93.70,216.59Z" fill="#0000ff"/>
<path d="M107.00,191.81 L109.83,196.71 L104.17,196.71Z" fill="#0000ff"/>
<path d="M117.47,216.66 L120.30,221.56 L114.65,221.56Z" fill="#0000ff"/>
<path d="M127.95,201.75 L130.78,206.65 L125.12,206.65Z" fill="#0000ff"/>
<path d="M138.43,201.75 L141.25,206.65 L135.60,206.65Z" fill="#0000ff"/>
<path d="M148.90,191.81 L151.73,196.71 L146.07,196.71Z" fill="#0000ff"/>
<path d="M159.38,62.59 L162.20,67.49 L156.55,67.49Z" fill="#0000ff"/>
<path d="M169.85,236.54 L172.68,241.44 L167.02,241.44Z" fill="#0000ff"/>
<path d="M180.32,17.86 L183.15,22.76 L177.50,22.76Z" fill="#0000ff"/>
<path d="M190.80,236.54 L193.63,241.44 L187.97,241.44Z" fill="#0000ff"/>
<path d="M201.27,206.72 L204.10,211.62 L198.45,211.62Z" fill="#0000ff"/>
<path d="M211.75,241.51 L214.58,246.41 L208.92,246.41Z" fill="#0000ff"/>
<path d="M222.22,201.75 L225.05,206.65 L219.40,206.65Z" fill="#0000ff"/>
<path d="M232.70,226.60 L235.53,231.50 L229.87,231.50Z" fill="#0000ff"/>
<path d="M243.17,246.48 L246.00,251.38 L240.35,251.38Z" fill="#0000ff"/>
<path d="M253.65,231.57 L256.48,236.47 L250.82,236.47Z" fill="#0000ff"/>
<path d="M264.12,201.75 L266.95,206.65 L261.30,206.65Z" fill="#0000ff"/>
<path d="M274.60,241.51 L277.43,246.41 L271.77,246.41Z" fill="#0000ff"/>
<path d="M285.07,236.54 L287.90,241.44 L282.25,241.44Z" fill="#0000ff"/>
<text x="1.9" y="9.6" font-size="12.6" fill="#000">b</text>
</g>
</svg>
</body></html>
